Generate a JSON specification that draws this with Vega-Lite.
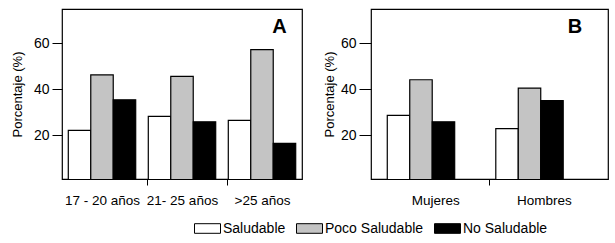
{
  "$schema": "https://vega.github.io/schema/vega-lite/v6.json",
  "padding": {"left": 10, "top": 8, "right": 5, "bottom": 5},
  "config": {
    "font": "Liberation Sans",
    "view": {"stroke": "black", "strokeWidth": 1.2},
    "axis": {"grid": false, "domain": false, "tickColor": "black", "labelColor": "black", "titleColor": "black", "titleFontWeight": "normal"}
  },
  "data": {"values": [
    {"panel": "A", "grupo": "17 - 20 años", "estado": "Saludable", "valor": 22.2},
    {"panel": "A", "grupo": "17 - 20 años", "estado": "Poco Saludable", "valor": 46.3},
    {"panel": "A", "grupo": "17 - 20 años", "estado": "No Saludable", "valor": 35.5},
    {"panel": "A", "grupo": "21- 25 años", "estado": "Saludable", "valor": 28.3},
    {"panel": "A", "grupo": "21- 25 años", "estado": "Poco Saludable", "valor": 45.7},
    {"panel": "A", "grupo": "21- 25 años", "estado": "No Saludable", "valor": 25.9},
    {"panel": "A", "grupo": ">25 años", "estado": "Saludable", "valor": 26.5},
    {"panel": "A", "grupo": ">25 años", "estado": "Poco Saludable", "valor": 57.3},
    {"panel": "A", "grupo": ">25 años", "estado": "No Saludable", "valor": 16.5},
    {"panel": "B", "grupo": "Mujeres", "estado": "Saludable", "valor": 28.7},
    {"panel": "B", "grupo": "Mujeres", "estado": "Poco Saludable", "valor": 44.2},
    {"panel": "B", "grupo": "Mujeres", "estado": "No Saludable", "valor": 25.9},
    {"panel": "B", "grupo": "Hombres", "estado": "Saludable", "valor": 22.9},
    {"panel": "B", "grupo": "Hombres", "estado": "Poco Saludable", "valor": 40.6},
    {"panel": "B", "grupo": "Hombres", "estado": "No Saludable", "valor": 35.1}
  ]},
  "spacing": 13,
  "hconcat": [
    {
      "width": 240, "height": 170,
      "layer": [
        {
          "transform": [{"filter": "datum.panel === 'A'"}],
          "mark": {"type": "bar", "stroke": "black", "strokeWidth": 1.2, "clip": true},
          "encoding": {
            "x": {"field": "grupo", "type": "nominal", "sort": ["17 - 20 años", "21- 25 años", ">25 años"], "title": null,
              "scale": {"paddingInner": 0, "paddingOuter": 0},
              "axis": {"labelAngle": 0, "labelFontSize": 13.5, "tickSize": 6, "tickOffset": 45, "labelOffset": -45, "labelPadding": 8,
                "tickColor": {"condition": {"test": "datum.value === '>25 años'", "value": "transparent"}, "value": "black"}}},
            "xOffset": {"field": "estado", "type": "nominal", "sort": ["Saludable", "Poco Saludable", "No Saludable"], "scale": {"paddingInner": 0, "paddingOuter": 0.28}},
            "y": {"field": "valor", "type": "quantitative", "title": "Porcentaje (%)", "scale": {"domain": [1, 75], "nice": false, "zero": false},
              "axis": {"values": [20, 40, 60], "tickSize": 10, "labelPadding": 3, "labelFontSize": 14, "titleFontSize": 13, "titlePadding": 9}},
            "color": {"field": "estado", "type": "nominal", "sort": ["Saludable", "Poco Saludable", "No Saludable"],
              "scale": {"domain": ["Saludable", "Poco Saludable", "No Saludable"], "range": ["#ffffff", "#c4c4c4", "#000000"]},
              "legend": {"title": null, "orient": "none", "direction": "horizontal", "legendX": 132, "legendY": 206, "gridAlign": "none",
                "symbolType": "M-1,-0.37H1V0.37H-1Z", "symbolSize": 676, "symbolStrokeColor": "black", "symbolStrokeWidth": 1,
                "labelFontSize": 14, "labelColor": "black", "labelOffset": 2, "columnPadding": 8, "labelLimit": 200}}
          }
        },
        {
          "data": {"values": [{"etiqueta": "A"}]},
          "mark": {"type": "text", "fontSize": 20, "fontWeight": "bold", "color": "black", "dx": -5},
          "encoding": {
            "x": {"datum": ">25 años", "type": "nominal"},
            "xOffset": {"datum": "No Saludable", "type": "nominal"},
            "y": {"datum": 67, "type": "quantitative"},
            "text": {"field": "etiqueta"}
          }
        }
      ]
    },
    {
      "width": 237, "height": 170,
      "layer": [
        {
          "transform": [{"filter": "datum.panel === 'B'"}],
          "mark": {"type": "bar", "stroke": "black", "strokeWidth": 1.2, "clip": true},
          "encoding": {
            "x": {"field": "grupo", "type": "nominal", "sort": ["Mujeres", "Hombres"], "title": null,
              "scale": {"paddingInner": 0, "paddingOuter": 0.092},
              "axis": {"labelAngle": 0, "labelFontSize": 13.5, "tickSize": 6, "tickOffset": 54.25, "labelOffset": -54.25, "labelPadding": 8,
                "tickColor": {"condition": {"test": "datum.value === 'Hombres'", "value": "transparent"}, "value": "black"}}},
            "xOffset": {"field": "estado", "type": "nominal", "sort": ["Saludable", "Poco Saludable", "No Saludable"], "scale": {"paddingInner": 0, "paddingOuter": 0.705}},
            "y": {"field": "valor", "type": "quantitative", "title": "Porcentaje (%)", "scale": {"domain": [1, 75], "nice": false, "zero": false},
              "axis": {"values": [20, 40, 60], "tickSize": 12, "labelPadding": 3, "labelFontSize": 14, "titleFontSize": 13, "titlePadding": 4}},
            "color": {"field": "estado", "type": "nominal", "sort": ["Saludable", "Poco Saludable", "No Saludable"],
              "scale": {"domain": ["Saludable", "Poco Saludable", "No Saludable"], "range": ["#ffffff", "#c4c4c4", "#000000"]},
              "legend": {"title": null, "orient": "none", "direction": "horizontal", "legendX": 132, "legendY": 206, "gridAlign": "none",
                "symbolType": "M-1,-0.37H1V0.37H-1Z", "symbolSize": 676, "symbolStrokeColor": "black", "symbolStrokeWidth": 1,
                "labelFontSize": 14, "labelColor": "black", "labelOffset": 2, "columnPadding": 8, "labelLimit": 200}}
          }
        },
        {
          "data": {"values": [{"etiqueta": "B"}]},
          "mark": {"type": "text", "fontSize": 20, "fontWeight": "bold", "color": "black", "dx": 23},
          "encoding": {
            "x": {"datum": "Hombres", "type": "nominal"},
            "xOffset": {"datum": "No Saludable", "type": "nominal"},
            "y": {"datum": 67, "type": "quantitative"},
            "text": {"field": "etiqueta"}
          }
        }
      ]
    }
  ]
}
